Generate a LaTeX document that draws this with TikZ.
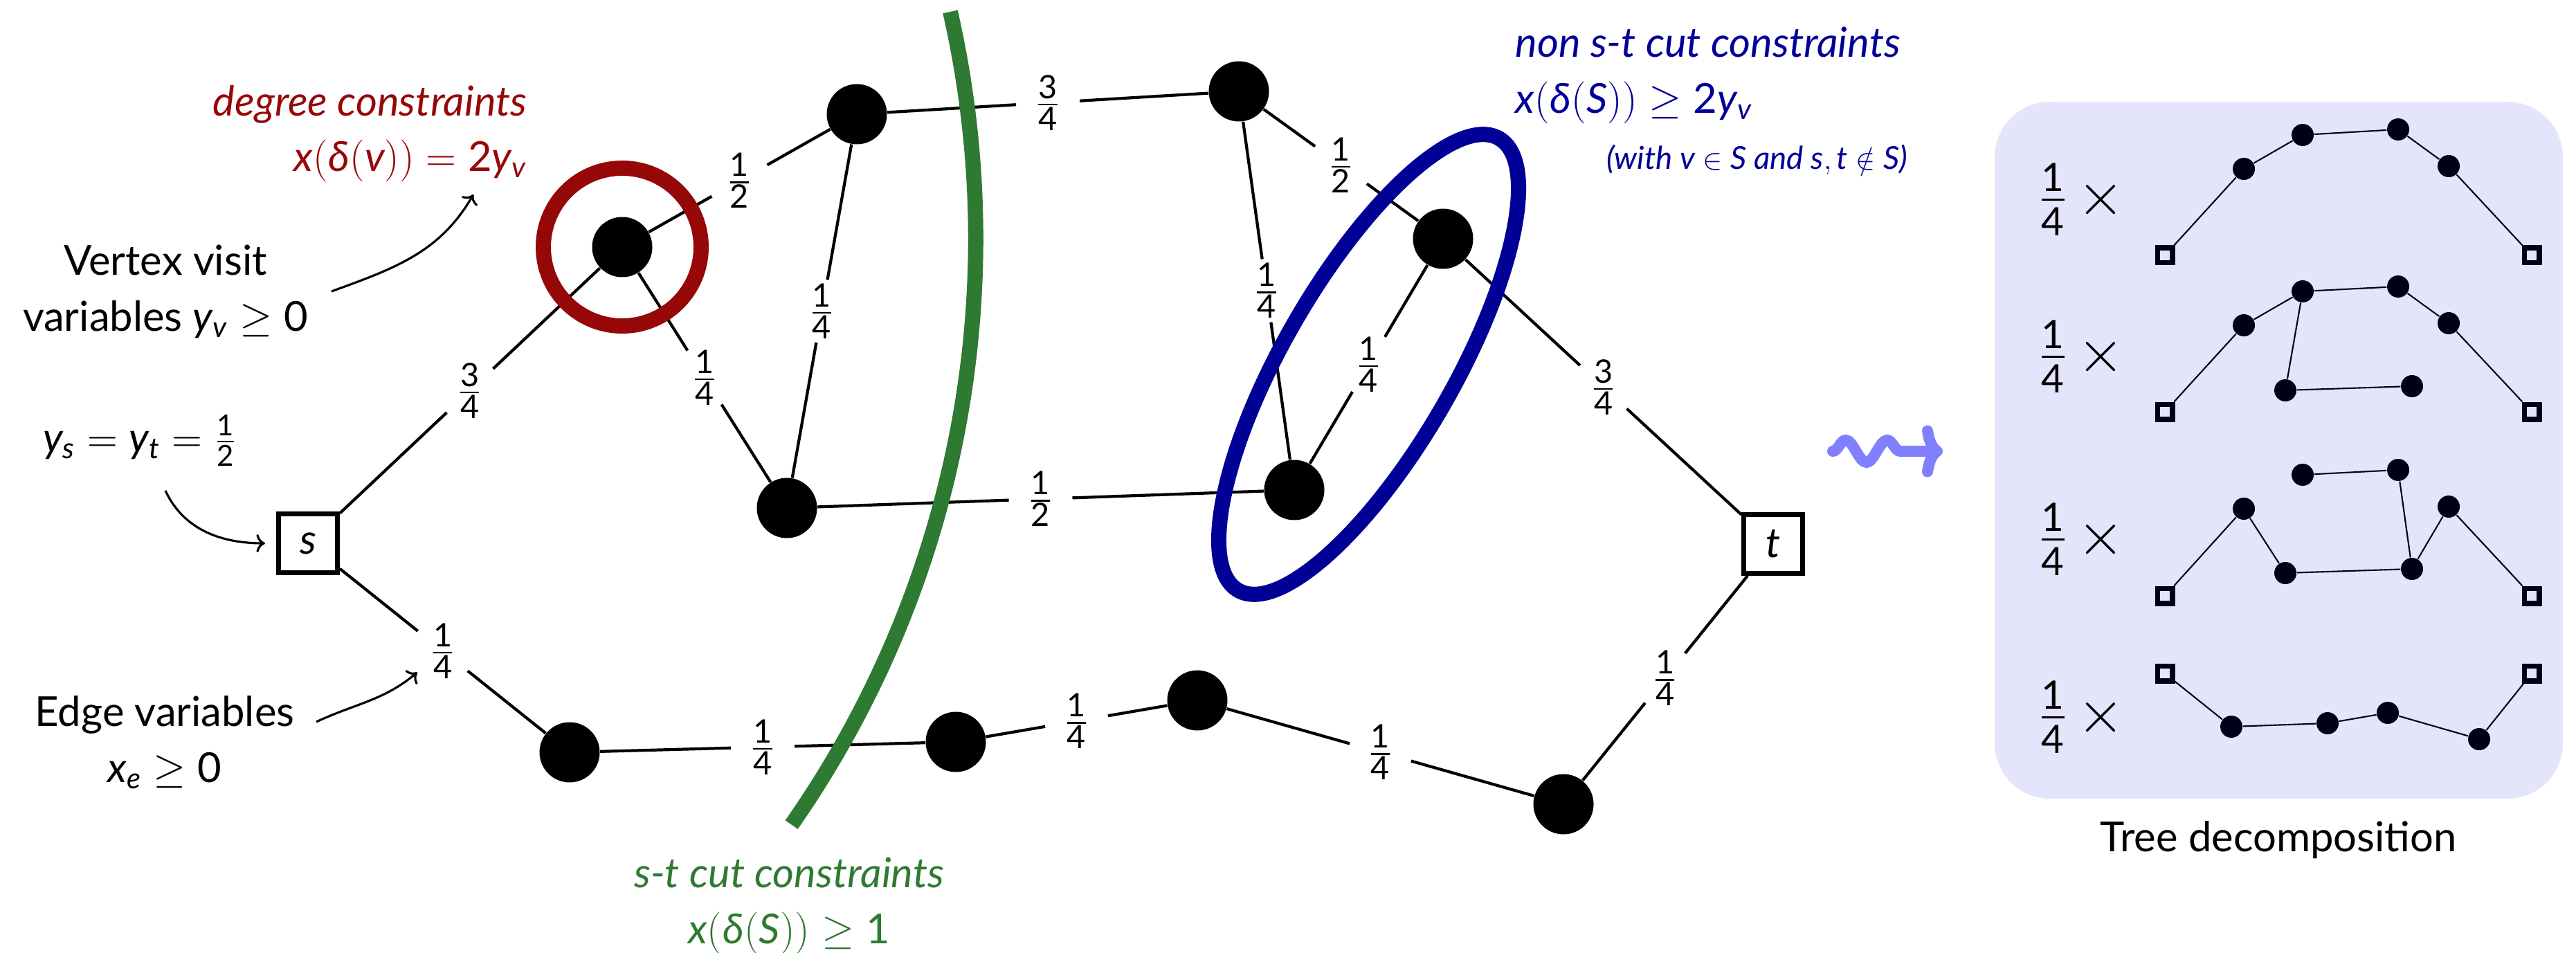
\documentclass[tikz,border=0pt]{standalone}
\usepackage{amsmath}
\usepackage{mathspec}
\setmainfont{Lato}
\setmathsfont(Digits,Latin,Greek){Lato}
\usetikzlibrary{arrows.meta,positioning,calc,decorations.pathmorphing}
\definecolor{degred}  {RGB}{150,8,8}
\definecolor{cutgreen}{RGB}{47,122,50}
\definecolor{nonblue} {RGB}{0,0,150}
\definecolor{wavy}    {RGB}{128,128,255}
\definecolor{panelbg} {RGB}{228,228,251}
\definecolor{mini}    {RGB}{0,0,25}

\begin{document}
\begin{tikzpicture}[
  vtx/.style={circle, fill=black, inner sep=0pt, minimum size=0.87cm},
  stbox/.style={rectangle, draw, line width=2pt, minimum size=0.85cm,
                inner sep=0pt, font=\fontsize{17}{20}\selectfont},
  lnk/.style={line width=1.2pt},
  wt/.style={circle, fill=white, inner sep=0pt, minimum size=0.92cm,
             font=\fontsize{19}{22}\selectfont},
  ann/.style={inner sep=0pt, font=\fontsize{17}{23}\selectfont},
  hint/.style={->, line width=0.9pt},
  hoop/.style={line width=0.22cm},
  minidot/.style={circle, fill=mini, inner sep=0pt, minimum size=0.32cm},
  minibox/.style={rectangle, draw=mini, line width=0.075cm,
                  inner sep=0pt, minimum size=0.215cm},
  twig/.style={draw=mini, line width=0.6pt},
  mult/.style={anchor=west, inner sep=0pt, font=\fontsize{23}{28}\selectfont},
  wave/.style={decorate, decoration={snake, amplitude=0.16cm,
               segment length=0.6cm, post length=0.38cm},
               line width=0.16cm, draw=wavy, line cap=round,
               -{Computer Modern Rightarrow[length=0.3cm, width=0.75cm]}}
]
  \useasboundingbox (0,0) rectangle (37.22,13.76);

  % panel behind the decomposition
  \node[fill=panelbg, rounded corners=0.8cm, inner sep=0pt,
        minimum width=8.21cm, minimum height=10.07cm] (panel) at (32.925,7.255) {};

  % the fractional solution
  \node[stbox] (s) at (4.45,5.91) {$s$};
  \node[stbox] (t) at (25.62,5.90) {$t$};
  \foreach \n/\x/\y in {v1/8.99/10.19, v2/12.38/12.11, v3/17.90/12.44,
                        v4/20.85/10.31, v5/18.70/6.68, v6/11.37/6.42,
                        v7/8.23/2.89, v8/13.81/3.04, v9/17.30/3.64,
                        v10/22.59/2.14}
    \node[vtx] (\n) at (\x,\y) {};

  \foreach \a/\b/\p/\q in {s/v1/3/4, v1/v2/1/2, v1/v6/1/4, v2/v6/1/4,
                           v2/v3/3/4, v3/v4/1/2, v3/v5/1/4, v4/v5/1/4,
                           v4/t/3/4, v6/v5/1/2, s/v7/1/4, v7/v8/1/4,
                           v8/v9/1/4, v9/v10/1/4, v10/t/1/4}
    \draw[lnk] (\a) -- node[wt] (w-\a-\b) {$\frac{\p}{\q}$} (\b);

  % constraints
  \draw[hoop, draw=degred] (v1) circle[radius=1.14cm];
  \path ($(v4)!0.5!(v5)$) coordinate (mid45);
  \draw[hoop, draw=nonblue, rotate around={60:(mid45)}]
    (mid45) ellipse[x radius=3.77cm, y radius=1.23cm];
  \draw[hoop, draw=cutgreen] (13.73,13.59) arc[start angle=12.8, end angle=-34.9, radius=14.8cm];

  \node[ann, text=degred, align=right, anchor=east] (deg) at (7.62,11.83)
    {\textit{degree constraints}\\$x(\delta(v)) = 2y_v$};
  \node[ann, text=nonblue, align=left, anchor=west] (nonst) at (21.89,12.675)
    {\textit{non s-t cut constraints}\\$x(\delta(S)) \geq 2y_v$};
  \node[ann, text=nonblue, anchor=base east, font=\fontsize{13}{16}\selectfont] (nonstnote)
    at (27.57,11.31) {\textit{(with $v \in S$ and $s,t \notin S$)}};
  \node[ann, text=cutgreen, align=center] (stcut) at (11.40,0.67)
    {\textit{s-t cut constraints}\\$x(\delta(S)) \geq 1$};

  % variables
  \node[ann, align=center] (vvar) at (2.39,9.55) {Vertex visit\\variables $y_v \geq 0$};
  \node[ann, anchor=base] (yst) at (2.02,7.23) {$y_s = y_t = \frac{1}{2}$};
  \node[ann, align=center] (evar) at (2.38,3.035) {Edge variables\\$x_e \geq 0$};

  \coordinate (vvtail) at (4.79,9.55);
  \coordinate (degtip) at (6.84,10.95);
  \coordinate (ysttail) at (2.39,6.67);
  \coordinate (evtail) at (4.57,3.33);
  \draw[hint] (vvtail) to[out=20, in=-120] (degtip);
  \draw[hint, shorten >=0.16cm] (ysttail) to[out=-65, in=180] (s);
  \draw[hint] (evtail) to[out=25, in=-140] (w-s-v7);

  % squiggle to the decomposition
  \coordinate (wavein) at (26.48,7.24);
  \coordinate (waveout) at (28.07,7.24);
  \draw[wave] (wavein) -- (waveout);

  % tree decomposition
  \foreach \r/\y in {1/10.88, 2/8.61, 3/5.97, 4/3.40}
    \node[mult] (m\r) at (29.45,\y) {$\frac{1}{4}\,\times$};

  \foreach \r/\y in {1/10.07, 2/7.81, 3/5.15, 4/4.03} {
    \node[minibox] (r\r-s) at (31.28,\y) {};
    \node[minibox] (r\r-t) at (36.58,\y) {};
  }
  \foreach \n/\x/\y in {r1-a/32.42/11.32, r1-b/33.27/11.81, r1-c/34.65/11.89, r1-d/35.38/11.36,
                        r2-a/32.42/9.06, r2-b/33.27/9.55, r2-c/34.65/9.62, r2-d/35.38/9.09,
                        r2-e/33.02/8.12, r2-f/34.85/8.18,
                        r3-a/32.42/6.41, r3-b/33.27/6.90, r3-c/34.65/6.97, r3-d/35.38/6.44,
                        r3-e/33.02/5.48, r3-f/34.85/5.54,
                        r4-g/32.24/3.26, r4-h/33.63/3.31, r4-i/34.50/3.46, r4-j/35.82/3.08}
    \node[minidot] (\n) at (\x,\y) {};

  \foreach \a/\b in {r1-s/r1-a, r1-a/r1-b, r1-b/r1-c, r1-c/r1-d, r1-d/r1-t,
                     r2-s/r2-a, r2-a/r2-b, r2-b/r2-c, r2-c/r2-d, r2-d/r2-t,
                     r2-b/r2-e, r2-e/r2-f,
                     r3-s/r3-a, r3-a/r3-e, r3-e/r3-f, r3-f/r3-d, r3-d/r3-t,
                     r3-b/r3-c, r3-c/r3-f,
                     r4-s/r4-g, r4-g/r4-h, r4-h/r4-i, r4-i/r4-j, r4-j/r4-t}
    \draw[twig] (\a) -- (\b);

  \node[ann, anchor=base] (tdcap) at (32.92,1.46) {Tree decomposition};
\end{tikzpicture}
\end{document}
